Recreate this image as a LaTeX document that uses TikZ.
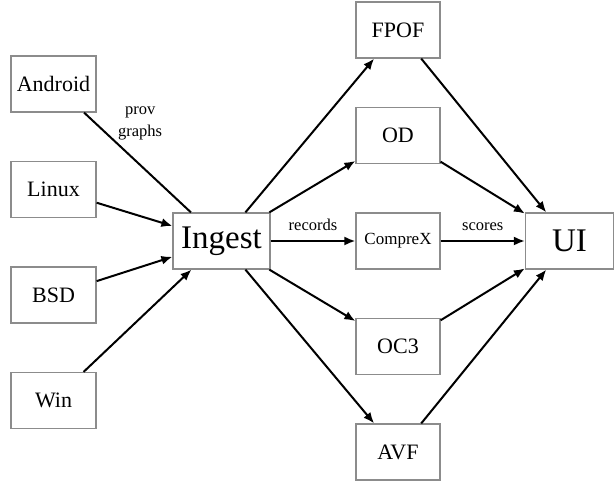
\documentclass[tikz,border=0pt]{standalone}
\usepackage{fontspec}
\setmainfont{Liberation Serif}
\usetikzlibrary{arrows.meta,positioning}
\tikzstyle{arrow} = [draw, line width=2pt, -{Latex[length=11pt, width=9pt]}]
\tikzstyle{line} = [draw, line width=2pt]
\tikzstyle{box} = [rectangle, draw=black!45, line width=1.2pt, inner sep=0pt,
                   minimum height=56pt, font={\fontsize{22}{26}\selectfont}]
\tikzstyle{src} = [box, minimum width=85pt]
\tikzstyle{algo} = [box, minimum width=84pt]
\tikzstyle{big} = [box, font={\fontsize{33}{38}\selectfont}]
\tikzstyle{lbl} = [font={\fontsize{16.5}{22}\selectfont}, inner sep=1pt]

\begin{document}
\begin{tikzpicture}[x=1pt, y=-1pt,
                        node distance = 105.5pt]
      \useasboundingbox (0,0) rectangle (614,481);
      \node [big, minimum width=97pt] (ingest) at (221.5,241) {Ingest};
      \node [src] at (53.5,84) (android) {Android};
      \node [src, below of=android] (linux) {Linux};
      \node [src, below of=linux] (bsd) {BSD};
      \node [src, below of=bsd] (win) {Win};
      \node [algo, font={\fontsize{17}{20}\selectfont}] at (398,241) (comprex) {CompreX};
      \node [algo, above of=comprex] (od) {OD};
      \node [algo, above of=od] (fpof) {FPOF};
      \node [algo, below of=comprex] (oc3) {OC3};
      \node [algo, below of=oc3] (avf) {AVF};
      \node [big, minimum width=88pt] at (569.5,241) (ui) {UI};
      \path [line] (android) -- node [lbl, pos=0.3, above right, align=center]
        {prov\\graphs} (ingest);
      \path [arrow] (linux) -- (ingest);
      \path [arrow] (bsd) -- (ingest);
      \path [arrow] (win) -- (ingest);
      \path [arrow] (ingest) -- (fpof);
      \path [arrow] (ingest) -- (od);
      \path [arrow] (ingest) -- node [lbl, above=8pt] {records} (comprex);
      \path [arrow] (ingest) -- (oc3);
      \path [arrow] (ingest) -- (avf);
      \path [arrow] (fpof) -- (ui);
      \path [arrow] (od) -- (ui);
      \path [arrow] (comprex) -- node [lbl, above=8pt] {scores} (ui);
      \path [arrow] (oc3) -- (ui);
      \path [arrow] (avf) -- (ui);
    \end{tikzpicture}
\end{document}
